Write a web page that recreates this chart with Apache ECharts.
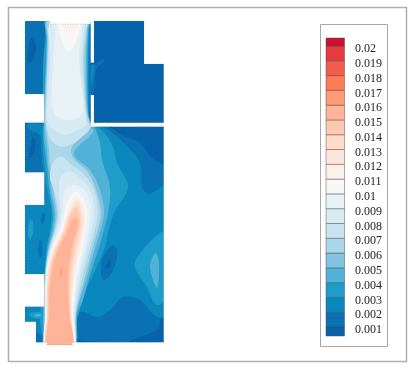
<!DOCTYPE html>
<html><head><meta charset="utf-8">
<style>html,body{margin:0;padding:0;background:#fff}#c{width:414px;height:369px}</style>
<script src="https://cdn.jsdelivr.net/npm/echarts@6/dist/echarts.min.js"></script>
</head><body><div id="c"></div><script>
const tickLevels=[0.02,0.019,0.018,0.017,0.016,0.015,0.014,0.013,0.012,0.011,0.01,0.009,0.008,0.007,0.006,0.005,0.004,0.003,0.002,0.001];
const bandColors=['#0562ab','#0a72b3','#0a88bd','#1f9dca','#52b1d6','#7fc3e0','#a9d6e8','#c6e3ef','#d8ebf3','#e8f1f5','#f7f7f7','#fcf0eb','#fee5da','#ffdcc9','#ffc8b0','#ffb398','#ff9a75','#ff7b52','#f45b4b','#e53a3f','#cf1030'];
// contour outlines: [band index, [[x,y],...]] painted in order, x/y on the hidden field axes
const k1Main=[[20,16],[91,16],[91,64],[95,64],[100,60],[104,59],[103,63],[97,68],[95,78],[94,92],[91,95],[91,126],[106,126],[122,135],[140,143],[152,158],[170,172],[170,350],[20,350]];
const k0Top=[[31,38],[28,55],[28,64],[33,60],[36,45]];
const k0Mid=[[33,137],[30,150],[29,158],[33,155],[36,142]];
const k0Corner=[[127,343],[157,330],[161,318],[164,312],[172,312],[172,352],[127,352]];
const k0Base=[[72,339],[85,341],[100,343],[100,350],[72,350]];
const k2Main=[[45,18],[45,30],[43.5,60],[42.5,90],[42,123],[32,123],[27,126],[32,131],[38,133],[41,138],[41,150],[43,172],[43,203],[20,203],[20,276],[42,276],[42,305],[20,305],[20,323],[36,332],[42,336],[44,343],[46,350],[74,350],[76,335],[78,313],[85,312],[97,317],[110,310],[123,297],[140,300],[157,317],[170,313],[170,182],[157,190],[148,194],[142,187],[140,163],[128,147],[110,131],[100,126],[92,126],[90,122],[89.3,110],[89.5,60],[90,30],[90.5,18]];
const k2Lobe=[[91,66],[94,64],[94,75],[91,85]];
const k1DarkA=[[113,245],[103,257],[101,267],[103,280],[110,275],[116,262],[117,250]];
const k1DarkB=[[43,212],[41,222],[43,225],[45,215]];
const k1DarkC=[[40,240],[38,250],[40,258],[42,255],[42,245]];
const k0Spot=[[108,261],[106,268],[109,268],[110,262]];
const k3Main=[[46.7,18],[46.7,30],[43.3,60],[43,93],[43.5,123],[42.5,130],[43,147],[45,170],[47,187],[51.7,213],[50,230],[46.7,247],[45,267],[43,290],[40,321],[43,337],[44,350],[74,350],[75,327],[79,313],[83,297],[92,277],[105,247],[107,237],[114,213],[128,187],[117,163],[113,147],[103,131],[95,126],[90.5,123],[88.5,110],[88,60],[89,30],[89.5,18]];
const k3Lobe=[[168,231],[135,262],[147,287],[157,305],[168,293]];
const k3Spot=[[30,220],[28,232],[30,240],[33,232],[33,222]];
const k3Swirl=[[29,314],[35,312],[43,313],[42,318],[33,318]];
const k4Main=[[47,18],[46.5,40],[45.5,70],[44.5,95],[44,123],[43.5,135],[45,150],[47,165],[48,177],[49.5,190],[53.3,213],[51.7,230],[47.7,247],[45.3,267],[44,290],[43,325],[45,337],[46,350],[74,350],[77.5,313],[82,303],[89.5,277],[99,247],[102,237],[108,213],[110,187],[102,160],[100,143],[95,128],[90.5,122],[88,110],[87.3,60],[88.3,30],[89,18]];
const k4Lobe=[[155,253],[150,267],[157,288],[159,273],[158,257]];
const k5Main=[[48,18],[47,40],[46.7,60],[45,95],[44.5,110],[44.5,123],[45,135],[47,150],[48,165],[50,177],[51,190],[55,213],[53.3,230],[48.7,247],[45.6,267],[44,290],[44,310],[44,325],[45,350],[73,350],[76.5,313],[87,277],[95.5,247],[98.5,237],[104,213],[100,190],[90,170],[75,157],[75,150],[93,132],[91,126],[87.3,110],[86,60],[87.5,30],[88,18]];
const k4Swirl=[[34,315],[40,314],[41,316],[36,316.5]];
const k6Main=[[49,18],[48,40],[47,70],[46,95],[45,118],[45.5,123],[47,135],[49,150],[50,165],[52,180],[53,190],[56.7,213],[54.3,230],[49.3,247],[46,267],[44.5,290],[45,313],[46,350],[73,350],[76,313],[85,277],[93,247],[96,237],[101,213],[96,190],[88,172],[75,160],[71,150],[78,140],[91,127],[89.5,122],[86.5,110],[84.5,60],[86.8,30],[88,18]];
const k7Upper=[[50,18],[49.5,30],[47.8,60],[46.5,90],[45.7,110],[46,125],[50,138],[58,146],[70,145],[82,137],[90,128],[87,120],[85.8,110],[83,60],[86,30],[87,18]];
const k7Lower=[[58,157],[52,165],[50,178],[54,190],[58.3,213],[55.3,230],[50,247],[46.3,267],[44.7,290],[45,313],[46.5,350],[72.8,350],[75.5,313],[82.5,277],[90.5,247],[98,213],[94,190],[85,175],[72,165],[63,157]];
const k8Upper=[[51.7,18],[50,60],[48.3,90],[47,110],[48,122],[54,130],[65,135],[78,130],[86,124],[85,110],[81,60],[84,30],[85,18]];
const k8Lower=[[65,173],[60,178],[59,190],[60,213],[56.7,230],[50.7,247],[46.6,267],[45,290],[45.5,313],[47,350],[72.8,350],[75,313],[80,277],[88,247],[94.5,213],[90,190],[80,178],[72,172]];
const k9Upper=[[55,18],[55,30],[53.3,60],[51.7,90],[52,105],[56,116],[66,120],[78,118],[83,112],[82,90],[79,60],[81.7,30],[83,18]];
const k9Lower=[[72,185],[65,190],[63,200],[62.3,213],[58.3,230],[51.7,247],[47,267],[45.2,290],[45.5,313],[47,350],[72.6,350],[74,313],[78,277],[85.5,247],[91,213],[88,195],[80,187]];
const k10Upper=[[58,18],[59,30],[62,42],[67,50],[73,48],[78,35],[80,18]];
const k10Lower=[[75,192],[70,197],[66,205],[65,213],[60,230],[52.7,247],[47.7,267],[45.5,290],[45.5,313],[46.7,350],[72.5,350],[73,313],[76.5,277],[83,247],[87,222],[86,205],[81,196]];
const k11Upper=[[62,18],[64,29],[72,32],[78,27],[79,18]];
const k11Lower=[[76,196],[71,201],[67,213],[61.7,230],[54,247],[48,267],[46,290],[46,313],[46.8,350],[72.4,350],[72,313],[75,277],[81,247],[85.5,222],[84,205],[80,199]];
const k12Lower=[[77,199],[72,205],[68.3,213],[63,230],[55,247],[48.3,267],[46.5,290],[46.5,313],[47,350],[72.3,350],[71,313],[73.5,277],[79,247],[84,222],[82,207]];
const k13Lower=[[77,203],[73,208],[69,213],[64,230],[56,247],[49.3,267],[47,290],[47,313],[47.3,350],[72.2,350],[70.5,313],[72,277],[77,247],[82,225],[81,210]];
const k14Lower=[[76,207],[72,212],[70,215],[65,230],[57.3,247],[50.7,267],[48,290],[48,313],[47.5,350],[72,350],[70,313],[70,277],[75,247],[80,225],[79,212]];
const k15Lower=[[75,217],[71,222],[66.7,233],[59.3,247],[52.7,267],[49.5,290],[49,313],[48,350],[72,350],[69.5,313],[68,277],[72,247],[78,226],[78,219]];
const k16Spot=[[61,267],[60,275],[61,278],[62,272]];
const contours=[[1,k1Main],[0,k0Top],[0,k0Mid],[0,k0Corner],[0,k0Base],[2,k2Main],[2,k2Lobe],[1,k1DarkA],[1,k1DarkB],[1,k1DarkC],[0,k0Spot],[3,k3Main],[3,k3Lobe],[3,k3Spot],[3,k3Swirl],[4,k4Main],[4,k4Lobe],[4,k4Swirl],[5,k5Main],[6,k6Main],[7,k7Upper],[7,k7Lower],[8,k8Upper],[8,k8Lower],[9,k9Upper],[9,k9Lower],[10,k10Upper],[10,k10Lower],[11,k11Upper],[11,k11Lower],[12,k12Lower],[13,k13Lower],[14,k14Lower],[15,k15Lower],[16,k16Spot]];
// field outline, clockwise; everything outside it is blanked
const fieldOutline=[[25,21.5],[50,21.5],[50,24],[90.7,24],[90.7,62.7],[94,62.7],[94,21.5],[144,21.5],[144,64],[163.7,64],[163.7,122.8],[94,122.8],[94,95],[90.7,95],[90.7,126.7],[163.7,126.7],[163.7,342.3],[72.3,342.3],[72.3,345],[47.3,345],[47.3,342.3],[36,342.3],[36,321.7],[25,321.7],[25,306.7],[44.3,306.7],[44.3,274],[25,274],[25,205],[44.3,205],[44.3,172.3],[25,172.3],[25,122.7],[44.3,122.7],[44.3,94],[25,94]];
const blanks=[
 [[10,94],[44.3,94],[44.3,122.7],[10,122.7]],[[10,172.3],[44.3,172.3],[44.3,205],[10,205]],[[10,274],[44.3,274],[44.3,306.7],[10,306.7]],
 [[10,321.7],[36,321.7],[36,360],[10,360]],[[36,342.3],[47.3,342.3],[47.3,360],[36,360]],[[36,345],[80,345],[80,360],[36,360]],[[72.3,342.3],[180,342.3],[180,360],[72.3,360]],
 [[50,10],[90.7,10],[90.7,24],[50,24]],[[90.7,10],[94,10],[94,62.7],[90.7,62.7]],[[90.7,95],[94,95],[94,126.7],[90.7,126.7]],
 [[90.7,122.8],[180,122.8],[180,126.7],[90.7,126.7]],[[144,10],[180,10],[180,64],[144,64]],[[163.7,10],[180,10],[180,360],[163.7,360]]];
const fieldAxisX=[25,164], fieldAxisY=[21,346];
const legendAxis=[0.000391,0.020541];
const legendBands=bandColors.map((c,i)=>[i===0?legendAxis[0]:tickLevels[20-i],i===20?legendAxis[1]:tickLevels[19-i],i]);
function poly(pts,style,smooth,api){return{type:'polygon',shape:{points:pts.map(p=>api.coord(p)),smooth:smooth},style:style,silent:true};}
const chart=echarts.init(document.getElementById('c'),null,{renderer:'canvas'});
chart.setOption({
 animation:false,backgroundColor:'#fff',
 graphic:[
  {type:'rect',shape:{x:8.5,y:7.5,width:398,height:354},style:{fill:'none',stroke:'#b0b0b0',lineWidth:1.5},silent:true,z:-1},
  {type:'rect',shape:{x:320.5,y:24.5,width:67,height:322},style:{fill:'none',stroke:'#a8a8a8',lineWidth:1},silent:true,z:-1}
 ],
 grid:[{left:25,top:21,width:139,height:325},{left:326,top:38,width:18.5,height:298},{left:326,top:41,width:18.5,height:298}],
 xAxis:[{type:'value',min:fieldAxisX[0],max:fieldAxisX[1],show:false,gridIndex:0},{type:'value',min:0,max:1,show:false,gridIndex:1},{type:'value',min:0,max:1,show:false,gridIndex:2}],
 yAxis:[{type:'value',min:fieldAxisY[0],max:fieldAxisY[1],inverse:true,show:false,gridIndex:0},
  {type:'value',min:legendAxis[0],max:legendAxis[1],show:false,gridIndex:1},
  {type:'value',min:legendAxis[0],max:legendAxis[1],gridIndex:2,position:'right',
   axisLine:{show:false},axisTick:{show:false},splitLine:{show:false},
   axisLabel:{show:true,customValues:tickLevels,margin:10.5,color:'#222',fontFamily:'Liberation Serif',fontSize:12,
    formatter:v=>String(+(+v).toFixed(3))}}],
 series:[
  {type:'custom',xAxisIndex:0,yAxisIndex:0,clip:true,silent:true,data:[[0]],encode:{x:0},
   renderItem:(p,api)=>{const r=[[20,16],[170,16],[170,352],[20,352]];return poly(r,{fill:bandColors[0]},0,api);}},
  {type:'custom',xAxisIndex:0,yAxisIndex:0,clip:true,silent:true,data:contours.map((c,i)=>[i]),
   renderItem:(p,api)=>{const c=contours[p.dataIndex];return poly(c[1],{fill:bandColors[c[0]]},0.35,api);}},
  {type:'custom',xAxisIndex:0,yAxisIndex:0,clip:false,silent:true,data:blanks.map((c,i)=>[i]),z:5,
   renderItem:(p,api)=>poly(blanks[p.dataIndex],{fill:'#fff'},0,api)},
  {type:'custom',xAxisIndex:0,yAxisIndex:0,clip:false,silent:true,data:[[0]],z:6,
   renderItem:(p,api)=>poly(fieldOutline,{fill:'none',stroke:'rgba(90,90,90,0.45)',lineWidth:0.8,lineDash:[1,1.5]},0,api)},
  {type:'custom',xAxisIndex:1,yAxisIndex:1,clip:false,silent:true,data:legendBands,encode:{y:[0,1]},z:4,
   renderItem:(p,api)=>{const a=api.coord([0,api.value(0)]),b=api.coord([1,api.value(1)]);
    return{type:'rect',shape:{x:a[0],y:b[1],width:b[0]-a[0],height:a[1]-b[1]},style:{fill:bandColors[api.value(2)],stroke:'rgba(70,70,70,0.45)',lineWidth:1},silent:true};}}
 ]
});
</script></body></html>
